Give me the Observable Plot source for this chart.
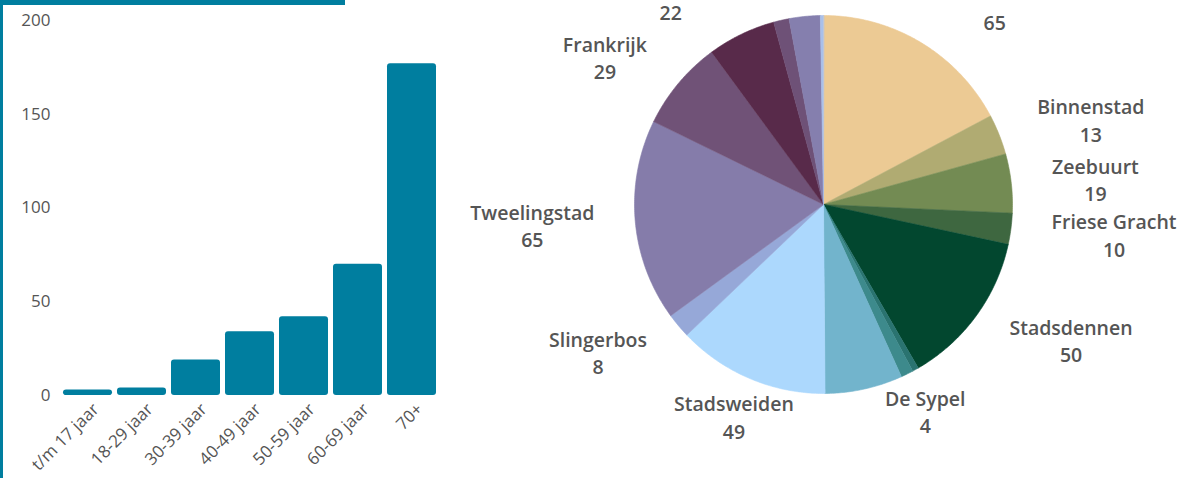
<!DOCTYPE html>
<html>
<head>
<meta charset="utf-8">
<script src="https://cdn.jsdelivr.net/npm/d3@7"></script>
<script src="https://cdn.jsdelivr.net/npm/@observablehq/plot@0.6"></script>
<style>
  html, body { margin: 0; padding: 0; background: #fff; }
  #wrap { position: relative; width: 1180px; height: 478px; overflow: hidden; font-family: "Open Sans", sans-serif; }
  #bar { position: absolute; left: 0; top: 0; }
  #pie { position: absolute; left: 445px; top: 0; }
  .frameL { position: absolute; left: 0; top: 0; width: 3px; height: 478px; background: #007e9f; }
  .frameT { position: absolute; left: 0; top: 0; width: 345px; height: 5px; background: #007e9f; }
</style>
</head>
<body>
<div id="wrap">
  <div id="bar"></div>
  <div id="pie"></div>
  <div class="frameL"></div>
  <div class="frameT"></div>
</div>
<script>
// ---- Bar chart data ----
const leeftijden = ["t/m 17 jaar", "18-29 jaar", "30-39 jaar", "40-49 jaar", "50-59 jaar", "60-69 jaar", "70+"];
const aantalPerLeeftijd = [3, 4, 19, 34, 42, 70, 177];
const yTicks = [0, 50, 100, 150, 200];

// ---- Pie chart data (clockwise from 12 o'clock) ----
const wijken = ["", "Binnenstad", "Zeebuurt", "Friese Gracht", "Stadsdennen", "", "De Sypel", "", "Stadsweiden", "Slingerbos", "Tweelingstad", "Frankrijk", "", "", "", ""];
const aantalPerWijk = [65, 13, 19, 10, 50, 2, 4, 25, 49, 8, 65, 29, 22, 5, 10, 1];
const labelZichtbaar = [true, true, true, true, true, false, true, false, true, true, true, true, true, false, false, false];
const kleuren = ["#ecca94", "#b0ab72", "#738b53", "#3e6740", "#02472f", "#2a7370", "#3d8a8c", "#72b4cc",
                 "#acd8fd", "#96a8d8", "#857caa", "#705277", "#582a4a", "#6e5177", "#857fae", "#a9c0ea"];

const FONT = '"Open Sans", sans-serif';
const TEXT = "#555";
const BLUE = "#007e9f";

// ---- Bar chart ----
const barData = leeftijden.map((l, i) => ({leeftijd: l, aantal: aantalPerLeeftijd[i]}));
const bar = Plot.plot({
  width: 445, height: 478,
  marginLeft: 60, marginRight: 5, marginTop: 20, marginBottom: 83,
  style: {fontFamily: FONT, fontSize: "17px", color: TEXT, background: "transparent"},
  x: {domain: leeftijden, paddingInner: 0.085, paddingOuter: 0.04},
  y: {domain: [0, 200]},
  marks: [
    Plot.barY(barData, {x: "leeftijd", y: "aantal", fill: BLUE, rx: 3}),
    Plot.axisY({ticks: yTicks, tickSize: 0, tickPadding: 10, label: null, fontSize: 17}),
    Plot.axisX({tickRotate: -45, tickSize: 0, tickPadding: 8, label: null, fontSize: 17, dx: 8, dy: 3})
  ]
});
document.getElementById("bar").appendChild(bar);

// ---- Pie chart ----
const R = 189;          // pie radius in px
const RL = 230;         // label radius
const keys = aantalPerWijk.map((_, i) => "s" + i);
const arcs = d3.pie().sort(null).value(d => d)(aantalPerWijk);
const pts = [];
arcs.forEach((a, i) => {
  const k = keys[i];
  pts.push({k, x: 0, y: 0});
  const n = Math.max(2, Math.ceil((a.endAngle - a.startAngle) / 0.01));
  for (let j = 0; j <= n; j++) {
    const t = a.startAngle + (a.endAngle - a.startAngle) * j / n;
    pts.push({k, x: R * Math.sin(t), y: R * Math.cos(t)});
  }
});

const FS = 19.5, LH = 1.4;
const LFONT = `600 ${FS}px "Open Sans"`;
const ctx = document.createElement("canvas").getContext("2d");
ctx.font = LFONT;
// names that fall outside the view are assumed to be as wide as the average visible name
const zichtbareNamen = wijken.filter((n, i) => n && labelZichtbaar[i]);
const gemBreedte = d3.mean(zichtbareNamen, n => ctx.measureText(n).width);
const labels = [];
arcs.forEach((a, i) => {
  if (!labelZichtbaar[i]) return;
  const mid = (a.startAngle + a.endAngle) / 2;
  const s = Math.sin(mid), c = Math.cos(mid);
  const name = wijken[i];
  const val = String(aantalPerWijk[i]);
  const w = name ? Math.max(ctx.measureText(name).width, ctx.measureText(val).width) : gemBreedte;
  const push = c < -0.8 ? 0 : Math.sign(s) * w / 2;
  const x = RL * s + push, y = RL * c;
  if (name) labels.push({x, y, text: name + "\n" + val});
  else labels.push({x, y: y - FS * LH / 2, text: val});
});

const pie = Plot.plot({
  width: 735, height: 478, margin: 0,
  style: {fontFamily: FONT, background: "transparent", overflow: "visible"},
  x: {domain: [-378, 357], axis: null},
  y: {domain: [-274, 204], axis: null},
  color: {type: "ordinal", domain: keys, range: kleuren},
  marks: [
    Plot.line(pts, {x: "x", y: "y", z: "k", fill: "k", stroke: "k", strokeWidth: 0.6, curve: "linear-closed"}),
    Plot.text(labels, {x: "x", y: "y", text: "text", fontSize: FS, fontWeight: 600, fill: TEXT, lineHeight: LH})
  ]
});
document.getElementById("pie").appendChild(pie);
</script>
</body>
</html>
